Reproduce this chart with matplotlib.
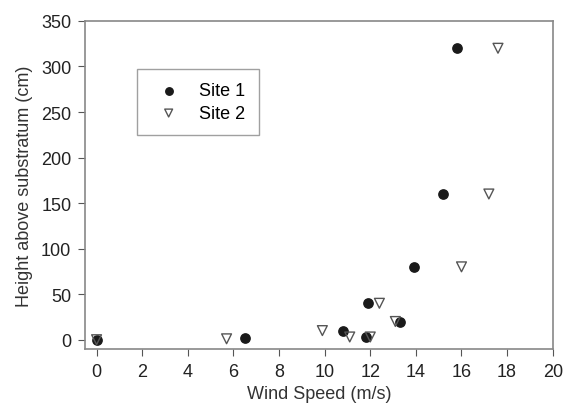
import matplotlib
matplotlib.use('Agg')
import matplotlib.pyplot as plt

plt.rcParams['font.family'] = ['Liberation Sans', 'DejaVu Sans']

# Site 1 (filled circles)
site1_wind = [0, 6.5, 10.8, 11.8, 11.9, 13.3, 13.9, 15.2, 15.8]
site1_height = [0, 2, 10, 3, 40, 20, 80, 160, 320]
# Site 2 (open triangles)
site2_wind = [0, 5.7, 9.9, 11.1, 12.0, 12.4, 13.1, 16.0, 17.2, 17.6]
site2_height = [0, 1, 10, 3, 3, 40, 20, 80, 160, 320]

fig = plt.figure(figsize=(5.64, 4.14), dpi=100)
ax = fig.add_axes([0.151, 0.155, 0.829, 0.792])

ax.scatter(site1_wind, site1_height, s=45, marker='o', color='#1a1a1a',
           edgecolors='#1a1a1a', label='Site 1', zorder=3)
ax.scatter(site2_wind, site2_height, s=50, marker='v', facecolors='none',
           edgecolors='#555555', linewidths=1.0, label='Site 2', zorder=3)

ax.set_xlim(-0.5, 20)
ax.set_ylim(-10, 350)
ax.set_xticks(range(0, 21, 2))
ax.set_yticks(range(0, 351, 50))
ax.set_xlabel('Wind Speed (m/s)', fontsize=13, color='#333333', labelpad=4)
ax.set_ylabel('Height above substratum (cm)', fontsize=13, color='#333333', labelpad=6)
ax.tick_params(direction='out', length=5, colors='#555555', labelcolor='#222222',
               labelsize=13, pad=5)
for sp in ax.spines.values():
    sp.set_color('#888888')
    sp.set_linewidth(1.2)

leg = ax.legend(loc='upper left', bbox_to_anchor=(0.111, 0.854), borderaxespad=0,
                frameon=True, fancybox=False, edgecolor='#888888', fontsize=13,
                markerscale=0.8, handletextpad=0.7, borderpad=0.75,
                labelspacing=0.3, handlelength=2.0)
leg.get_frame().set_linewidth(1.0)

fig.savefig('out.png', dpi=100)
